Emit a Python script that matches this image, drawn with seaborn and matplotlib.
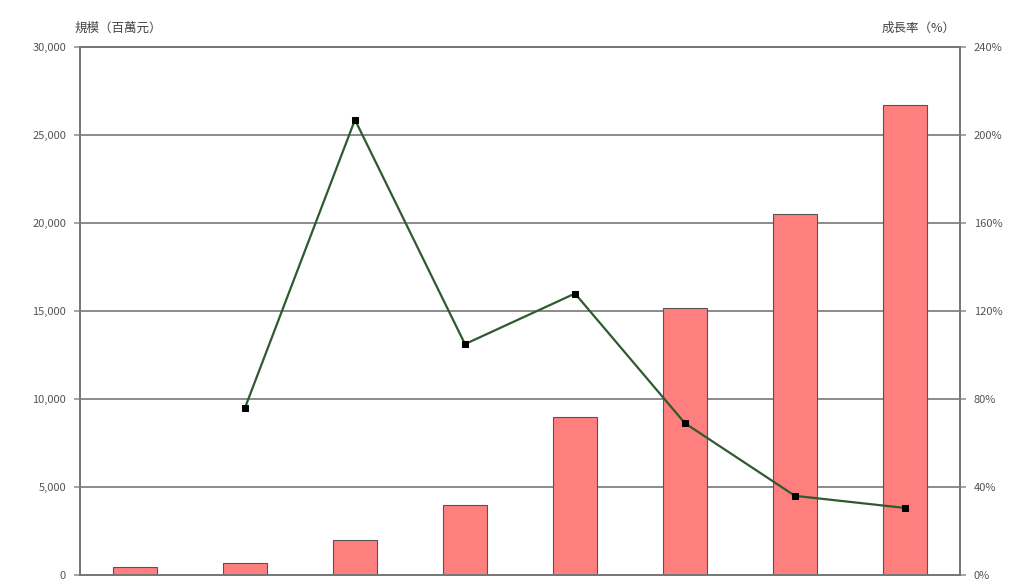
import matplotlib
matplotlib.use("Agg")
import matplotlib.pyplot as plt
import seaborn as sns
import pandas as pd
import numpy as np

categories = ["第1年", "第2年", "第3年", "第4年", "第5年", "第6年", "第7年", "第8年"]
scale_values = [450, 680, 2000, 4000, 9000, 15200, 20500, 26700]
growth_values = [np.nan, 76, 207, 105, 128, 69, 36, 30.5]
left_ticks = [0, 5000, 10000, 15000, 20000, 25000, 30000]
left_tick_labels = ["0", "5,000", "10,000", "15,000", "20,000", "25,000", "30,000"]
right_ticks = [0, 40, 80, 120, 160, 200, 240]
right_tick_labels = ["0%", "40%", "80%", "120%", "160%", "200%", "240%"]
left_title = "規模（百萬元）"
right_title = "成長率（%）"

sns.set_theme(style="white")
plt.rcParams['font.family'] = ['Noto Sans CJK TC', 'DejaVu Sans']

fig = plt.figure(figsize=(10.25, 5.83), dpi=100)
ax = fig.add_axes([0.078, 0.0137, 0.8586, 0.9053])

df = pd.DataFrame({"cat": categories, "scale": scale_values})
sns.barplot(data=df, x="cat", y="scale", ax=ax, color="#FF7F7F",
            edgecolor="#555555", linewidth=0.8, width=0.4, saturation=1)
ax.set_ylim(0, 30000)
ax.set_yticks(left_ticks)
ax.set_yticklabels(left_tick_labels, fontsize=8, color="#555555")
ax.set_xticks(range(len(categories)))
ax.set_xticklabels([])
ax.set_xlabel("")
ax.set_ylabel("")
ax.set_xlim(-0.5, len(categories) - 0.5)
for y in left_ticks[1:]:
    ax.axhline(y, color="#777777", linewidth=1.2, zorder=0)
ax.set_axisbelow(True)
for s in ax.spines.values():
    s.set_color("#777777")
    s.set_linewidth(1.3)
ax.tick_params(axis="y", length=4, color="#999999", pad=6)
ax.tick_params(axis="x", length=0)

ax2 = ax.twinx()
ldf = pd.DataFrame({"x": np.arange(len(categories)), "g": growth_values}).dropna()
sns.lineplot(data=ldf, x="x", y="g", ax=ax2, color="#2F5A2F", linewidth=1.6,
             marker="s", markersize=4.5, markerfacecolor="black",
             markeredgecolor="black")
ax2.set_ylim(0, 240)
ax2.set_yticks(right_ticks)
ax2.set_yticklabels(right_tick_labels, fontsize=8, color="#555555")
ax2.set_xlim(-0.5, len(categories) - 0.5)
ax2.set_xlabel("")
ax2.set_ylabel("")
ax2.tick_params(axis="y", length=4, color="#999999", pad=6)
for s in ax2.spines.values():
    s.set_color("#777777")
    s.set_linewidth(1.3)

fig.text(0.073, 0.952, left_title, fontsize=9, color="#444444", ha="left", va="center")
fig.text(0.932, 0.952, right_title, fontsize=9, color="#444444", ha="right", va="center")

fig.savefig("out.png", dpi=100)
